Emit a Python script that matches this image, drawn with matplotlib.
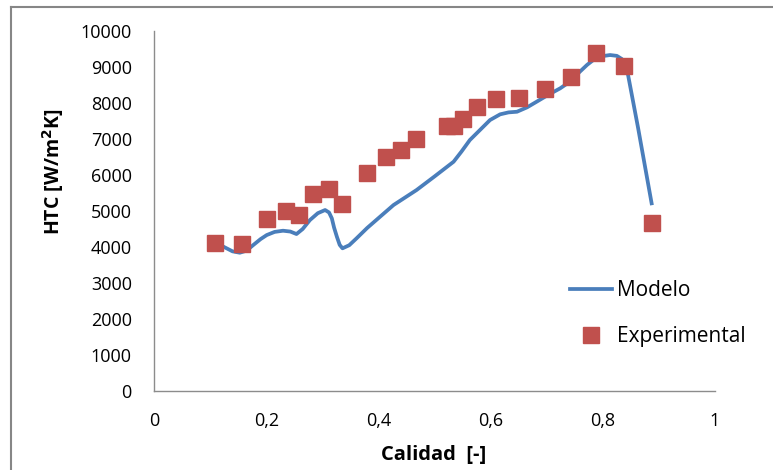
import matplotlib
matplotlib.use("Agg")
import matplotlib.pyplot as plt
from matplotlib.lines import Line2D
from matplotlib.ticker import FuncFormatter

plt.rcParams['font.family'] = ['Open Sans', 'DejaVu Sans']

# --- datos del modelo (curva suavizada) ---
modelo_x = [0.110, 0.124, 0.140, 0.153, 0.165, 0.177, 0.190, 0.201, 0.215, 0.230,
            0.243, 0.254, 0.265, 0.278, 0.292, 0.305, 0.312, 0.317, 0.321, 0.326,
            0.331, 0.336, 0.348, 0.361, 0.380, 0.403, 0.427, 0.448, 0.468, 0.500,
            0.534, 0.548, 0.563, 0.581, 0.599, 0.617, 0.632, 0.647, 0.665, 0.682,
            0.703, 0.724, 0.742, 0.759, 0.772, 0.783, 0.798, 0.813, 0.825, 0.834,
            0.845, 0.863, 0.887]
modelo_y = [4120, 4008, 3880, 3842, 3900, 4056, 4220, 4333, 4420, 4453,
            4430, 4361, 4500, 4750, 4940, 5028, 4960, 4797, 4540, 4286,
            4060, 3964, 4050, 4241, 4530, 4842, 5167, 5380, 5583, 5960,
            6369, 6650, 6972, 7250, 7528, 7686, 7740, 7758, 7880, 8036,
            8230, 8408, 8600, 8869, 9060, 9194, 9300, 9333, 9310, 9222,
            8778, 7297, 5214]

# --- datos experimentales ---
exp_x = [0.109, 0.157, 0.201, 0.235, 0.258, 0.284, 0.312, 0.336, 0.380, 0.414,
         0.441, 0.467, 0.523, 0.534, 0.550, 0.575, 0.609, 0.651, 0.697, 0.743,
         0.787, 0.838, 0.887]
exp_y = [4103, 4075, 4769, 5000, 4880, 5481, 5602, 5203, 6055, 6491,
         6694, 7008, 7361, 7361, 7564, 7897, 8102, 8147, 8380, 8731,
         9389, 9028, 4675]

fig = plt.figure(figsize=(7.73, 4.70), dpi=100)
ax = fig.add_axes([0.1992, 0.168, 0.7258, 0.766])

ax.plot(modelo_x, modelo_y, color='#4A7EBB', lw=2.7, label='Modelo',
        solid_joinstyle='round', zorder=2)
ax.plot(exp_x, exp_y, ls='none', marker='s', ms=12, color='#C0504D',
        mec='#C0504D', label='Experimental', zorder=3)

ax.set_xlim(0, 1)
ax.set_ylim(0, 10000)
ax.set_xticks([0, 0.2, 0.4, 0.6, 0.8, 1])
ax.set_yticks(range(0, 10001, 1000))
# coma decimal
ax.xaxis.set_major_formatter(FuncFormatter(lambda v, p: ('%g' % v).replace('.', ',')))
ax.tick_params(length=0, labelsize=13, colors='#000000')
ax.tick_params(axis='y', pad=16)
ax.tick_params(axis='x', pad=15)

for s in ['top', 'right']:
    ax.spines[s].set_visible(False)
for s in ['left', 'bottom']:
    ax.spines[s].set_color('#8C8C8C')
    ax.spines[s].set_linewidth(1.0)

ax.set_xlabel('Calidad  [-]', fontsize=14.5, fontweight='bold')
ax.set_ylabel('HTC [W/m$^\\mathbf{2}$K]', fontsize=14, fontweight='bold')
ax.xaxis.set_label_coords(0.499, -0.149)
ax.yaxis.set_label_coords(-0.156, 0.608)

ax.legend(loc='upper left', bbox_to_anchor=(0.727, 0.332), frameon=False,
          fontsize=15, handlelength=2.0, handletextpad=0.24, labelspacing=1.23,
          borderaxespad=0)

# marco exterior del grafico
fig.add_artist(Line2D([11 / 773, 11 / 773], [0, 1 - 7 / 470], color='#868686', lw=1.5))
fig.add_artist(Line2D([11 / 773, 1], [1 - 7 / 470, 1 - 7 / 470], color='#868686', lw=1.5))

fig.savefig('out.png', dpi=100)
